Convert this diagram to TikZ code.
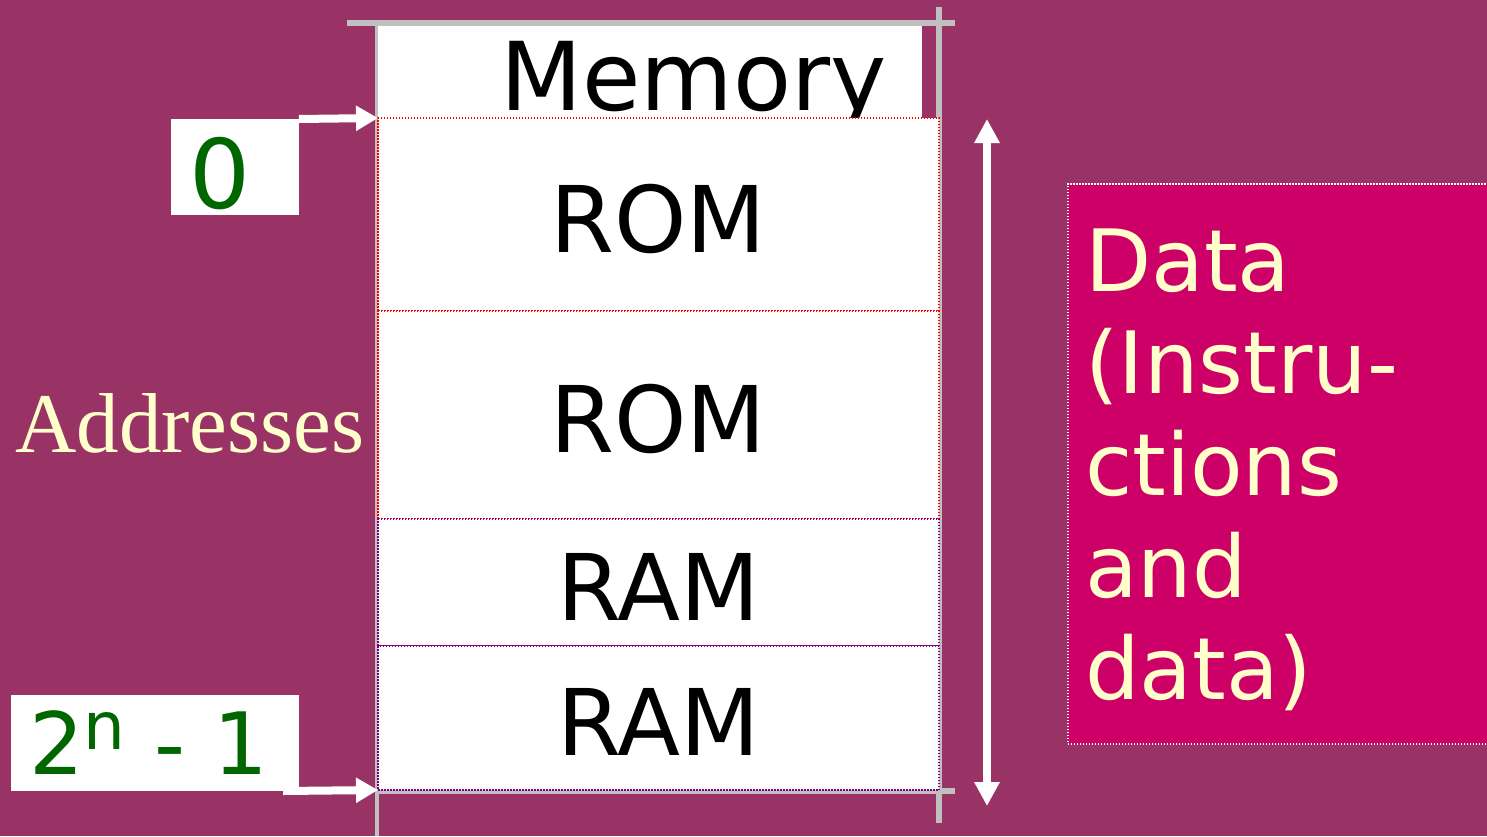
\documentclass[tikz,border=0pt]{standalone}
\usepackage{fontspec}
\setmainfont{DejaVu Sans}
\newfontfamily\addrfont{Liberation Serif}
\usepackage{xcolor}
\usetikzlibrary{positioning,arrows.meta}

\definecolor{bgplum}{RGB}{153,51,102}
\definecolor{datapink}{RGB}{204,0,102}
\definecolor{cream}{RGB}{255,255,204}
\definecolor{addrgreen}{RGB}{0,102,0}
\definecolor{framegray}{RGB}{192,192,192}
\definecolor{rampurple}{RGB}{128,0,128}

\tikzset{
  segbox/.style={fill=white, minimum width=561pt, inner sep=0pt, outer sep=0pt,
    line width=1.5pt, dash pattern=on 1.5pt off 1.5pt, text height=75pt, text depth=0pt,
    font=\fontsize{92}{100}\selectfont},
  addrbox/.style={fill=white, inner ysep=0pt, inner xsep=18pt, outer sep=0pt,
    align=left, text=addrgreen},
  whitearrow/.style={white, line width=8pt, -{Triangle[width=24pt,length=22pt]}},
  spanarrow/.style={white, line width=8pt,
    {Triangle[width=24pt,length=24pt]}-{Triangle[width=24pt,length=24pt]}},
  frameline/.style={framegray, line width=6pt}
}

\begin{document}
\begin{tikzpicture}[x=1pt, y=-1pt]
  % Background
  \fill[bgplum] (0,0) rectangle (1487,836);
  \useasboundingbox (0,0) rectangle (1487,836);

  % Gray frame lines
  \draw[frameline] (347,23) -- (955,23);
  \draw[framegray, line width=4pt] (377,26) -- (377,836);
  \draw[frameline] (939,7) -- (939,823);
  \draw[frameline] (378,791) -- (955,791);

  % Title
  \node[fill=white, minimum width=544pt, minimum height=92pt, inner sep=0pt,
    anchor=north west] (title) at (378,26) {};
  \node[anchor=base west, inner sep=0pt, font=\fontsize{95}{100}\selectfont]
    (memlabel) at (500,110) {Memory};

  % Memory segments
  \node[segbox, draw=red, minimum height=193pt, anchor=north west] (rom1) at (378,118) {ROM};
  \node[segbox, draw=red, minimum height=208pt, below=0pt of rom1] (rom2) {ROM};
  \node[segbox, draw=rampurple, minimum height=127pt, below=0pt of rom2] (ram1) {RAM};
  \node[segbox, draw=rampurple, minimum height=144pt, below=0pt of ram1] (ram2) {RAM};

  % Address boxes
  \node[addrbox, text width=92pt, minimum height=96pt, text height=83pt, text depth=0pt,
    font=\fontsize{96}{100}\selectfont, anchor=north west] (zero) at (171,119) {0};
  \node[addrbox, text width=252pt, minimum height=96pt, font=\fontsize{86}{100}\selectfont,
    anchor=south west] (last) at (11,791) {2\raisebox{25pt}{\fontsize{66}{66}\selectfont n} - 1};

  % Arrows to first and last address
  \draw[whitearrow] (zero.north east) -- (rom1.north west);
  \draw[whitearrow] ([xshift=-16pt]last.south east) -- (ram2.south west);

  \node[anchor=base west, inner sep=0pt, text=cream, font=\addrfont\fontsize{85}{100}\selectfont]
    (addr) at (15,452) {Addresses};

  % Span arrow
  \coordinate (spantop) at (987,119);
  \coordinate (spanbot) at (987,806);
  \draw[spanarrow] (spantop) -- (spanbot);

  % Data box
  \node[fill=datapink, draw=white, line width=1.5pt, dash pattern=on 1.5pt off 1.5pt,
    anchor=north west, minimum height=560pt, minimum width=430pt, inner sep=0pt]
    (data) at (1067,183) {};
  \node[anchor=north west, inner sep=0pt, align=left, text=cream,
    font=\fontsize{86}{102}\selectfont] (datatxt) at (1085,229)
    {Data\\(Instru-\\ctions\\and\\data)};
\end{tikzpicture}
\end{document}
